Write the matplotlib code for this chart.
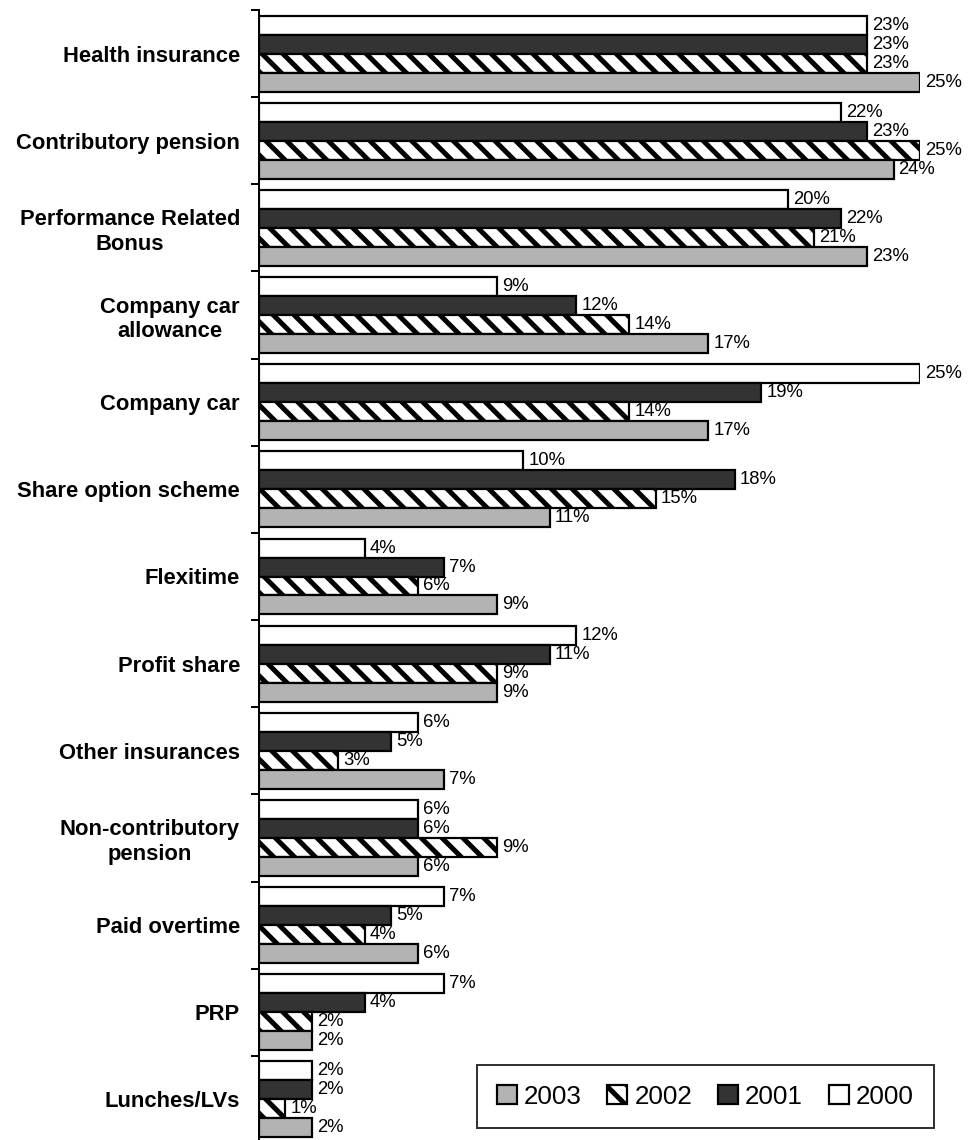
"""Employee benefits by year, horizontal grouped bars."""

import matplotlib

matplotlib.use("Agg")
import matplotlib.pyplot as plt  # noqa: E402
import numpy as np  # noqa: E402
from matplotlib import font_manager  # noqa: E402

DPI = 125
W, H = 968, 1140


def px(v):
    # pixels -> points at our dpi
    return v * 72 / DPI


categories = [
    "Health insurance", "Contributory pension", "Performance Related\nBonus",
    "Company car\nallowance", "Company car", "Share option scheme", "Flexitime",
    "Profit share", "Other insurances", "Non-contributory\npension",
    "Paid overtime", "PRP", "Lunches/LVs",
]
years = ["2000", "2001", "2002", "2003"]
v2000 = [23, 22, 20, 9, 25, 10, 4, 12, 6, 6, 7, 7, 2]
v2001 = [23, 23, 22, 12, 19, 18, 7, 11, 5, 6, 5, 4, 2]
v2002 = [23, 25, 21, 14, 14, 15, 6, 9, 3, 9, 4, 2, 1]
v2003 = [25, 24, 23, 17, 17, 11, 9, 9, 7, 6, 6, 2, 2]

_DARK = "#333333"
_GREY = "#b3b3b3"

plt.rcParams.update({"font.family": ["Liberation Sans", "DejaVu Sans"],
                     "hatch.linewidth": px(5), "hatch.color": _DARK})

# legend uses a narrow face in the original; fall back to a smaller regular one
_names = {f.name for f in font_manager.fontManager.ttflist}
if "Liberation Sans Narrow" in _names:
    leg_prop = {"family": "Liberation Sans Narrow", "size": px(29)}
    leg_kw = dict(handlelength=0.69, handleheight=0.62, handletextpad=0.25,
                  columnspacing=1.1, borderpad=0.45)
else:
    leg_prop = {"family": "Liberation Sans", "size": px(26)}
    leg_kw = dict(handlelength=0.77, handleheight=0.7, handletextpad=0.27,
                  columnspacing=1.0, borderpad=0.75)

fig = plt.figure(figsize=(W / DPI, H / DPI), dpi=DPI)
top, bottom = 10, 1143
ax = fig.add_axes([259 / W, 1 - bottom / H, (920 - 259) / W, (bottom - top) / H])

y = np.arange(len(categories))
h = 0.218
series = [
    (v2000, "white", None),
    (v2001, _DARK, None),
    (v2002, "white", "\\\\"),
    (v2003, _GREY, None),
]
handles = []
for j, (vals, col, hatch) in enumerate(series):
    bars = ax.barh(y + (j - 1.5) * h, vals, h, color=col, edgecolor="black",
                   linewidth=px(2.2), hatch=hatch, label=years[j])
    handles.append(bars)
    for b, v in zip(bars, vals):
        ax.annotate(f"{v}%", (v, b.get_y() + h / 2), xytext=(px(5), 0),
                    textcoords="offset points", va="center", ha="left",
                    fontsize=px(18.5), annotation_clip=False)

ax.set_xlim(0, 25)
ax.set_ylim(len(categories) - 0.5, -0.5)
ax.set_xticks([])
ax.set_yticks(np.arange(len(categories) + 1) - 0.5)
ax.set_yticklabels([])
ax.set_yticks(y, minor=True)
ax.set_yticklabels(categories, minor=True, fontweight="bold", fontsize=px(22),
                   multialignment="center")
ax.tick_params(axis="y", which="major", length=px(8), width=px(2))
ax.tick_params(axis="y", which="minor", length=0, pad=px(19))
for s in ("top", "right", "bottom"):
    ax.spines[s].set_visible(False)
ax.spines["left"].set_linewidth(px(2))

order = [3, 2, 1, 0]
leg = fig.legend([handles[i] for i in order], [years[i] for i in order],
                 loc="lower left", bbox_to_anchor=(477 / W, 1 - 1128 / H),
                 ncol=4, frameon=True, fancybox=False, edgecolor="black",
                 prop=leg_prop, borderaxespad=0, **leg_kw)
leg.get_frame().set_linewidth(px(2))

fig.savefig("out.png", dpi=DPI)
